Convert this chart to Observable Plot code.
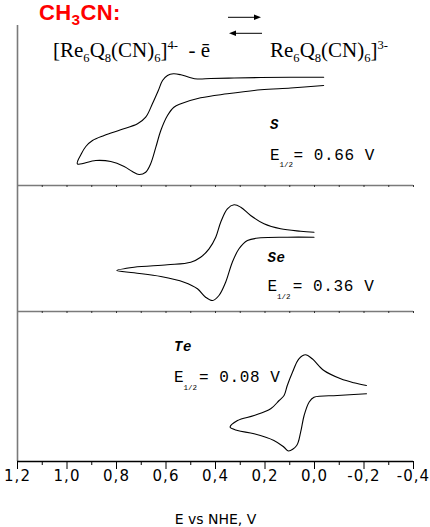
<!DOCTYPE html>
<html>
<head>
<meta charset="utf-8">
<script src="https://cdn.jsdelivr.net/npm/d3@7"></script>
<script src="https://cdn.jsdelivr.net/npm/@observablehq/plot@0.6"></script>
<style>
  body { margin: 0; background: #fff; }
  #wrap { position: relative; width: 430px; height: 527px; overflow: hidden; background: #fff; }
  .abs { position: absolute; }
  #title { left: 39px; top: 2px; font: bold 22px "Liberation Sans", Arial, sans-serif; letter-spacing: 0.4px; color: #ff0000; line-height: 1; white-space: nowrap; }
  #title sub { font-size: 0.7em; position: relative; top: 0.3em; vertical-align: baseline; line-height: 0; }
  .eq { font-family: "Liberation Serif", "Times New Roman", serif; font-size: 21px; line-height: 1; white-space: nowrap; color: #000; }
  .eq sub { font-size: 0.6em; position: relative; top: 0.4em; vertical-align: baseline; line-height: 0; }
  .eq sup { font-size: 0.6em; position: relative; top: -0.65em; vertical-align: baseline; line-height: 0; }
  g[font-family*="Mono"] text { letter-spacing: 0.6px; }
  g[font-family*="Mono"][font-size="7.5"] text { letter-spacing: 0; }
  #p2 g[aria-label="x-axis tick label"] text { font-family: "DejaVu Sans", sans-serif; font-size: 15px; letter-spacing: 1px; fill: #000; }
  #p2 g[aria-label="x-axis label"] text { font-family: "DejaVu Sans", sans-serif; font-size: 14px; fill: #000; }
</style>
</head>
<body>
<div id="wrap">
  <div id="title" class="abs">CH<sub>3</sub>CN:</div>
  <svg class="abs" style="left:226px;top:10px" width="38" height="30">
    <line x1="2" y1="7.3" x2="30" y2="7.3" stroke="#000" stroke-width="1"/>
    <polygon points="35,7.3 28,4.6 28,10" fill="#000"/>
    <line x1="9" y1="23.3" x2="36" y2="23.3" stroke="#000" stroke-width="1"/>
    <polygon points="3,23.3 10,20.6 10,26" fill="#000"/>
  </svg>
  <div class="abs eq" style="left:53px;top:40px">[Re<sub>6</sub>Q<sub>8</sub>(CN)<sub>6</sub>]<sup>4-</sup>&nbsp; - ē</div>
  <div class="abs eq" style="left:270px;top:40px">Re<sub>6</sub>Q<sub>8</sub>(CN)<sub>6</sub>]<sup>3-</sup></div>
  <div id="p0" class="abs" style="left:0;top:25px"></div>
  <div id="p1" class="abs" style="left:0;top:185px"></div>
  <div id="p2" class="abs" style="left:0;top:311px"></div>
</div>
<script>
// ---- data ----
const xDomain = [1.2, -0.4];
const majorTicks = [1.2, 1.0, 0.8, 0.6, 0.4, 0.2, 0.0, -0.2, -0.4];
const tickLabels = ["1,2", "1,0", "0,8", "0,6", "0,4", "0,2", "0,0", "-0,2", "-0,4"];
const minorTicks = [1.1, 0.9, 0.7, 0.5, 0.3, 0.1, -0.1, -0.3];
const xLabel = "E vs NHE, V";

const panelNames = ["S", "Se", "Te"];
const halfWaveText = ["= 0.66 V", "= 0.36 V", "= 0.08 V"];

// potentials (V vs NHE) and currents (arbitrary units)
const sPotential = [-0.037,0.096,0.217,0.325,0.419,0.473,0.507,0.540,0.570,0.594,0.614,0.631,0.655,0.682,0.715,0.783,0.850,0.897,0.924,0.942,0.958,0.884,0.823,0.769,0.736,0.709,0.682,0.662,0.641,0.621,0.594,0.568,0.540,0.460,0.352,0.217,0.096,-0.037];
const sCurrent   = [108.3,108.3,108,107.5,107,106.5,108.3,110.7,111.7,110,105,95,81.7,68.3,61.7,55.7,50,45,39,31.7,21.7,25,24,19,14,11,13.3,21.7,38.3,55,70,78.3,81.7,87.7,91.7,95.7,97.5,100];

const sePotential = [0.002,0.056,0.137,0.204,0.258,0.298,0.325,0.352,0.379,0.399,0.426,0.460,0.500,0.594,0.729,0.799,0.729,0.621,0.527,0.473,0.440,0.412,0.386,0.359,0.332,0.305,0.271,0.217,0.110,0.002];
const seCurrent   = [79.3,80.3,82.7,87.7,96,104.3,106.7,102.7,89.3,74.3,62.7,54.3,49.3,46.7,44.3,41,38.7,35,29.3,22.7,14.3,11,16,29.3,49.3,62.7,71,73.7,74.3,74.3];

const tePotential = [-0.210,-0.159,-0.106,-0.038,0.009,0.036,0.063,0.089,0.110,0.123,0.143,0.177,0.244,0.311,0.341,0.311,0.244,0.164,0.123,0.105,0.072,0.056,0.042,0.022,0.002,-0.092,-0.210];
const teCurrent   = [76,78.7,82.7,91,102.7,106.7,102.7,89.3,76,66,61,52.7,46,41,34.3,31,27.7,21,14.3,10.5,16,29.3,46,59.3,64.3,66,67.7];

// annotation anchor points (potential, current) per panel
const nameAt = [[0.180, 61.3], [0.190, 53.5], [0.568, 115]];
const eAt    = [[0.180, 31], [0.190, 25.2], [0.568, 84.3]];
const valueAt = [[0.085, 31], [0.088, 25.2], [0.467, 84.3]];
const panelHeights = [160, 126, 150];

const curves = [[sPotential, sCurrent], [sePotential, seCurrent], [tePotential, teCurrent]];

function panel(k) {
  const [pot, cur] = curves[k];
  const data = pot.map((e, j) => ({e, i: cur[j]}));
  const h = panelHeights[k];
  const last = k === 2;
  const mono = "Liberation Mono, Courier New, monospace";
  const marks = [
    Plot.ruleX([xDomain[0]], {stroke: "#7a7a7a", strokeWidth: 1.6}),
    Plot.line(data, {x: "e", y: "i", curve: "catmull-rom", stroke: "#000", strokeWidth: 1.1}),
    Plot.text([{x: nameAt[k][0], y: nameAt[k][1], t: panelNames[k]}], {x: "x", y: "y", text: "t", textAnchor: "start", fontFamily: mono, fontWeight: "bold", fontStyle: "italic", fontSize: 14, fill: "#000"}),
    Plot.text([{x: eAt[k][0], y: eAt[k][1], t: "E"}], {x: "x", y: "y", text: "t", textAnchor: "start", fontFamily: mono, fontSize: 16, fill: "#000"}),
    Plot.text([{x: eAt[k][0], y: eAt[k][1], t: "1/2"}], {x: "x", y: "y", text: "t", textAnchor: "start", dx: 9.5, dy: 10, fontFamily: mono, fontSize: 7.5, fill: "#000"}),
    Plot.text([{x: valueAt[k][0], y: valueAt[k][1], t: halfWaveText[k]}], {x: "x", y: "y", text: "t", textAnchor: "start", fontFamily: mono, fontSize: 16, fill: "#000"})
  ];
  if (!last) {
    marks.push(Plot.ruleY([0], {stroke: "#7a7a7a", strokeWidth: 1.6}));
    marks.push(Plot.axisX({ticks: majorTicks.concat(minorTicks), tickSize: 2, tickFormat: () => "", label: null, stroke: "#333"}));
  } else {
    marks.push(Plot.ruleY([0], {stroke: "#000", strokeWidth: 1.3}));
    marks.push(Plot.axisX({ticks: minorTicks, tickSize: 4, tickFormat: () => "", label: null}));
    marks.push(Plot.axisX({
      ticks: majorTicks, tickSize: 8, tickPadding: 1,
      tickFormat: d => tickLabels[majorTicks.indexOf(d)],
      fontSize: 15, label: xLabel, labelAnchor: "center", labelOffset: 62, labelArrow: "none"
    }));
  }
  return Plot.plot({
    width: 430,
    height: h + (last ? 66 : 0),
    marginLeft: 17, marginRight: 17, marginTop: 0, marginBottom: last ? 66 : 0,
    x: {domain: xDomain, label: null},
    y: {domain: [0, h], axis: null},
    style: {background: "transparent", overflow: "visible", fontFamily: "DejaVu Sans, sans-serif", fontSize: "14px", color: "#000"},
    marks
  });
}

for (let k = 0; k < 3; k++) document.getElementById("p" + k).appendChild(panel(k));
</script>
</body>
</html>
